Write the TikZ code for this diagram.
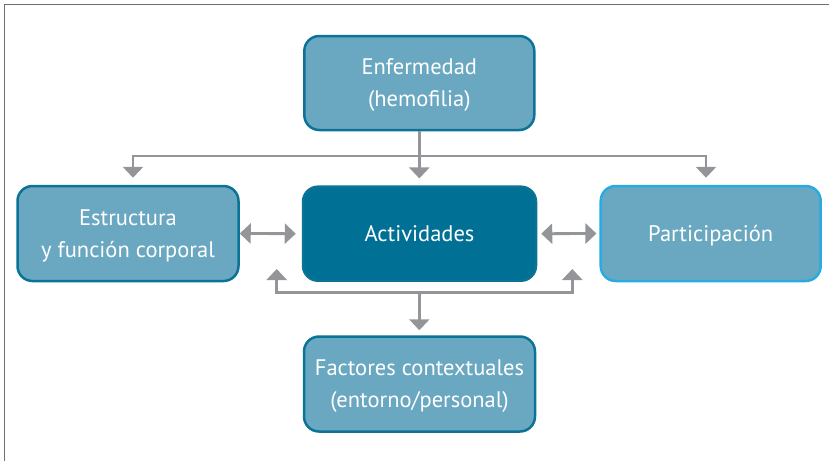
\documentclass[tikz,border=0pt]{standalone}
\usepackage{fontspec}
\setmainfont{PT Sans}
\usetikzlibrary{arrows.meta,calc}
\definecolor{boxfill}{HTML}{6AA8C1}
\definecolor{boxline}{HTML}{0B7396}
\definecolor{actfill}{HTML}{007095}
\definecolor{parline}{HTML}{29ABE2}
\definecolor{conncol}{HTML}{939598}
\definecolor{framecol}{HTML}{6D6E71}
\tikzset{
  box/.style={draw=boxline, fill=boxfill, line width=2.5pt, rounded corners=15pt,
    text=white, align=center, text depth=0pt, font=\fontsize{22.5pt}{32pt}\selectfont},
  conn/.style={draw=conncol, line width=2.8pt},
  arr/.style={conn, -{Triangle[length=11pt,width=20pt]}},
  darr/.style={conn, {Triangle[length=11pt,width=20pt]}-{Triangle[length=11pt,width=20pt]}},
}
\begin{document}
\begin{tikzpicture}[x=1pt,y=-1pt]
  \useasboundingbox (0,0) rectangle (829,461);
  % frame
  \draw[framecol, line width=1.6pt] (4.5,461) -- (4.5,4.5) -- (829,4.5);

  % boxes
  \node[box, minimum width=230pt, minimum height=94pt] (enf) at (419.3,83) {Enfermedad\\(hemofilia)};
  \node[box, minimum width=221pt, minimum height=95pt] (est) at (128,233.5) {Estructura\\y función corporal};
  \node[box, fill=actfill, minimum width=233pt, minimum height=94pt] (act) at (419.5,233.7) {Actividades};
  \node[box, draw=parline, minimum width=220pt, minimum height=95pt] (par) at (710.7,233.5) {Participación};
  \node[box, minimum width=231pt, minimum height=95pt] (fac) at (419.5,384) {Factores contextuales\\(entorno/personal)};

  % branching from the top box
  \coordinate (tsplit) at (419.3,156);
  \draw[conn] (enf.south) -- (tsplit);
  \draw[arr, shorten >=7pt] (tsplit) -- (tsplit |- act.north);
  \draw[arr] (tsplit) -| ([xshift=5pt,yshift=7pt]est.north);
  \draw[arr] (tsplit) -| ([xshift=-4.7pt,yshift=7pt]par.north);

  % two-way links
  \draw[darr, shorten >=6pt] (est.east) -- (act.west);
  \draw[darr, shorten <=4pt, shorten >=3pt] (act.east) -- (par.west);

  % bracket below the middle row
  \coordinate (bsplit) at (419.3,292.3);
  \coordinate (bl) at (276.7,269);
  \coordinate (br) at (572.3,269);
  \draw[arr] (bsplit) -| (bl);
  \draw[arr] (bsplit) -| (br);
  \draw[arr, shorten >=5pt] (bsplit) -- (bsplit |- fac.north);
\end{tikzpicture}
\end{document}
